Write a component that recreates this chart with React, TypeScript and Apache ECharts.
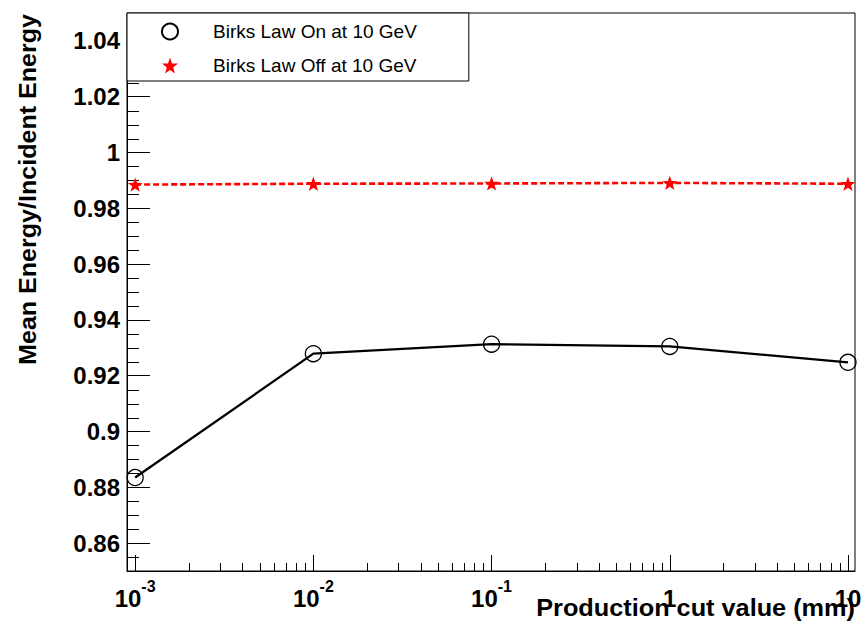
import React, { useEffect, useRef } from 'react';
import * as echarts from 'echarts';

// ---- data ----
const cutValues = [0.001, 0.01, 0.1, 1, 10];
const birksOn = [0.8835, 0.9279, 0.9313, 0.9305, 0.9248];
const birksOff = [0.9885, 0.9888, 0.9889, 0.9891, 0.9888];
const seriesNames = ['Birks Law On at 10 GeV', 'Birks Law Off at 10 GeV'];
const xTitle = 'Production cut value (mm)';
const yTitle = 'Mean Energy/Incident Energy';

// ---- axis ranges & tick positions ----
const xRange = [0.0009, 10.95];
const yRange = [0.85, 1.05];
const xMinorTicks = [
  0.002, 0.003, 0.004, 0.005, 0.006, 0.007, 0.008, 0.009,
  0.02, 0.03, 0.04, 0.05, 0.06, 0.07, 0.08, 0.09,
  0.2, 0.3, 0.4, 0.5, 0.6, 0.7, 0.8, 0.9,
  2, 3, 4, 5, 6, 7, 8, 9,
];
const yMinorTicks = [
  0.855, 0.865, 0.87, 0.875, 0.885, 0.89, 0.895, 0.905, 0.91, 0.915,
  0.925, 0.93, 0.935, 0.945, 0.95, 0.955, 0.965, 0.97, 0.975, 0.985,
  0.99, 0.995, 1.005, 1.01, 1.015, 1.025, 1.03, 1.035, 1.045,
];

const FONT = 'Liberation Sans';
const STAR =
  'path://M10,0 L12.351,6.764 L19.511,6.910 L13.804,11.236 L15.878,18.090 L10,14 L4.122,18.090 L6.196,11.236 L0.489,6.910 L7.649,6.764 Z';

function xLabel(v: number): string {
  const e = Math.log10(v);
  const r = Math.round(e);
  if (Math.abs(e - r) > 1e-6) return '';
  if (r === 0) return '{b|1}';
  if (r === 1) return '{b|10}';
  return `{b|10}{s|${r}}`;
}

function yLabel(v: number): string {
  return String(+(+v).toFixed(3));
}

export default function App() {
  const ref = useRef<HTMLDivElement>(null);
  useEffect(() => {
    if (!ref.current) return;
    const chart = echarts.init(ref.current, undefined, { renderer: 'svg' });
    const option: any = {
      animation: false,
      backgroundColor: '#fff',
      grid: {
        left: 127,
        right: 10,
        top: 13,
        bottom: 56,
        show: true,
        borderColor: '#000',
        borderWidth: 1,
      },
      legend: {
        data: seriesNames.map((n) => ({ name: n })),
        orient: 'vertical',
        left: 127,
        top: 13,
        itemWidth: 76,
        itemHeight: 20,
        itemGap: 15,
        padding: [9, 52, 6, 4],
        backgroundColor: '#fff',
        borderColor: '#000',
        borderWidth: 1,
        borderRadius: 0,
        selectedMode: false,
        lineStyle: { opacity: 0 },
        textStyle: { fontFamily: FONT, fontSize: 19, color: '#000' },
      },
      xAxis: {
        type: 'log',
        logBase: 10,
        min: xRange[0],
        max: xRange[1],
        axisLine: { show: true, lineStyle: { color: '#000', width: 1 } },
        axisTick: { show: true, inside: true, length: 16, lineStyle: { color: '#000', width: 1 } },
        minorTick: { show: false },
        splitLine: { show: false },
        axisLabel: {
          showMinLabel: false,
          showMaxLabel: false,
          margin: 7,
          color: '#000',
          formatter: (v: number) => xLabel(v),
          rich: {
            b: { fontFamily: FONT, fontWeight: 'bold', fontSize: 24, lineHeight: 32, verticalAlign: 'bottom', color: '#000' },
            s: { fontFamily: FONT, fontWeight: 'bold', fontSize: 16, lineHeight: 15, verticalAlign: 'top', color: '#000' },
          },
        },
      },
      yAxis: {
        type: 'value',
        min: yRange[0],
        max: yRange[1],
        splitNumber: 10,
        axisLine: { show: true, lineStyle: { color: '#000', width: 1 } },
        axisTick: { show: true, inside: true, length: 23, lineStyle: { color: '#000', width: 1 } },
        splitLine: { show: false },
        axisLabel: {
          showMinLabel: false,
          showMaxLabel: false,
          margin: 7,
          padding: [7, 0, 0, 0],
          color: '#000',
          fontFamily: FONT,
          fontWeight: 'bold',
          fontSize: 24,
          formatter: (v: number) => yLabel(v),
        },
      },
      graphic: [
        {
          type: 'text',
          x: 855,
          y: 608,
          scaleX: 1.1,
          silent: true,
          style: {
            text: xTitle,
            fontFamily: FONT,
            fontWeight: 'bold',
            fontSize: 23,
            fill: '#000',
            align: 'right',
            verticalAlign: 'middle',
            textAlign: 'right',
            textVerticalAlign: 'middle',
          },
        },
        {
          type: 'text',
          x: 28,
          y: 14,
          rotation: Math.PI / 2,
          scaleX: 1.09,
          silent: true,
          style: {
            text: yTitle,
            fontFamily: FONT,
            fontWeight: 'bold',
            fontSize: 23,
            fill: '#000',
            align: 'right',
            verticalAlign: 'middle',
            textAlign: 'right',
            textVerticalAlign: 'middle',
          },
        },
      ],
      series: [
        {
          name: seriesNames[0],
          type: 'line',
          data: cutValues.map((x, i) => [x, birksOn[i]]),
          symbol: 'circle',
          symbolSize: 16,
          lineStyle: { color: '#000', width: 2.3 },
          itemStyle: { color: 'rgba(0,0,0,0)', borderColor: '#000', borderWidth: 1.3 },
          z: 3,
        },
        {
          name: seriesNames[1],
          type: 'line',
          data: cutValues.map((x, i) => [x, birksOff[i]]),
          symbol: STAR,
          symbolSize: 15,
          symbolKeepAspect: true,
          lineStyle: { color: '#ff0000', width: 2.6, type: [6, 3] },
          itemStyle: { color: '#ff0000' },
          z: 3,
        },
        {
          name: 'xMinorTicks',
          type: 'custom',
          silent: true,
          clip: false,
          z: 1,
          data: xMinorTicks.map((v) => [v, yRange[0]]),
          renderItem: (_p: any, api: any) => {
            const p = api.coord([api.value(0), api.value(1)]);
            const x = Math.round(p[0]) + 0.5;
            return {
              type: 'line',
              shape: { x1: x, y1: p[1], x2: x, y2: p[1] - 8 },
              style: { stroke: '#000', lineWidth: 1 },
            };
          },
        },
        {
          name: 'yMinorTicks',
          type: 'custom',
          silent: true,
          clip: false,
          z: 1,
          data: yMinorTicks.map((v) => [xRange[0], v]),
          renderItem: (_p: any, api: any) => {
            const p = api.coord([api.value(0), api.value(1)]);
            const y = Math.round(p[1]) + 0.5;
            return {
              type: 'line',
              shape: { x1: p[0], y1: y, x2: p[0] + 12, y2: y },
              style: { stroke: '#000', lineWidth: 1 },
            };
          },
        },
      ],
    };
    chart.setOption(option);
    return () => chart.dispose();
  }, []);
  return (
    <div
      ref={ref}
      style={{ position: 'fixed', left: 0, top: 0, width: 865, height: 627, background: '#fff' }}
    />
  );
}
